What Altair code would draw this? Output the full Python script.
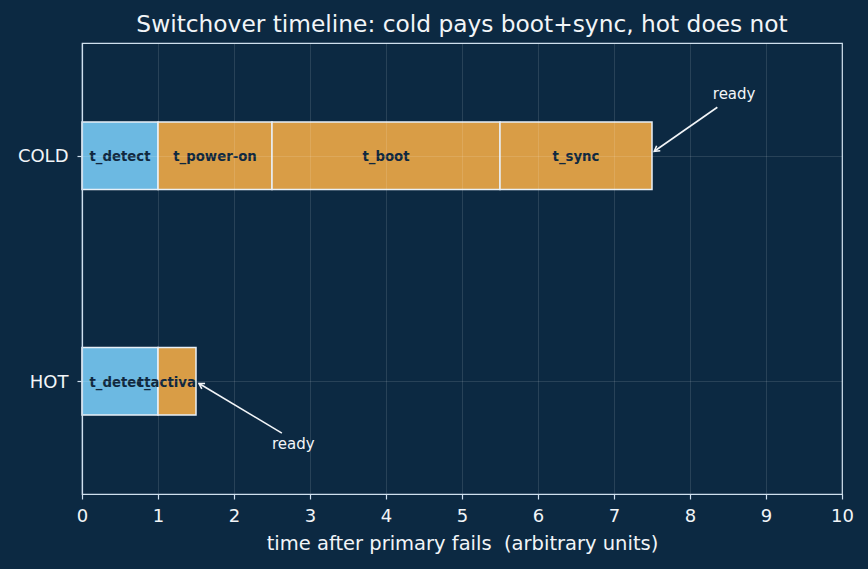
import altair as alt
import pandas as pd

# ---- data ----
seg_lane = ["COLD", "COLD", "COLD", "COLD", "HOT", "HOT"]
seg_name = ["t_detect", "t_power-on", "t_boot", "t_sync", "t_detect", "t_activate"]
seg_start = [0.0, 1.0, 2.5, 5.5, 0.0, 1.0]
seg_end = [1.0, 2.5, 5.5, 7.5, 1.0, 1.5]
seg_kind = ["detect", "cold", "cold", "cold", "detect", "hot"]
lane_names = ["HOT", "COLD"]
lane_pos = {"HOT": 0, "COLD": 1}

ann_text = ["ready", "ready"]
ann_text_x = [8.3, 2.5]
ann_text_y = [1.275, -0.28]
ann_tail_x = [8.36, 2.63]
ann_tail_y = [1.215, -0.23]
ann_tip_x = [7.53, 1.54]
ann_tip_y = [1.02, -0.01]
ann_angle = [234.6, 301.0]

x_ticks = list(range(0, 11))

BG = "#0c2942"
BLUE = "#6cb9e2"
ORANGE = "#d99d46"
EDGE = "#e8f0f7"
LABEL_DARK = "#10283f"
AXIS_C = "#cfe0ee"
TXT = "#f2f5f8"

seg = pd.DataFrame({
    "lane": seg_lane, "name": seg_name, "start": seg_start,
    "end": seg_end, "kind": seg_kind,
})
seg["pos"] = seg["lane"].map(lane_pos)
seg["lo"] = seg["pos"] - 0.15
seg["hi"] = seg["pos"] + 0.15
seg["mid"] = (seg["start"] + seg["end"]) / 2

ann = pd.DataFrame({
    "text": ann_text, "tx": ann_text_x, "ty": ann_text_y,
    "ax": ann_tail_x, "ay": ann_tail_y, "bx": ann_tip_x, "by": ann_tip_y,
    "angle": ann_angle,
})

xscale = alt.Scale(domain=[0, 10], nice=False, zero=False)
yscale = alt.Scale(domain=[-0.5, 1.5], nice=False, zero=False)

xaxis = alt.Axis(
    values=x_ticks, format="d", title="time after primary fails\u00a0 (arbitrary units)",
    grid=True, gridColor="#ffffff", gridOpacity=0.15, gridWidth=0.8,
    domainColor=AXIS_C, domainWidth=1.2, tickColor=AXIS_C, tickSize=5, tickWidth=1.2,
    labelColor=TXT, labelFontSize=18, labelFont="DejaVu Sans", labelPadding=8,
    labelFlush=False, labelOverlap=False,
    titleColor=TXT, titleFontSize=19.5, titleFont="DejaVu Sans",
    titleFontWeight="normal", titlePadding=9, zindex=1,
)
yaxis = alt.Axis(
    values=[0, 1], title=None,
    labelExpr="datum.value == 1 ? 'COLD' : 'HOT'",
    grid=True, gridColor="#ffffff", gridOpacity=0.15, gridWidth=0.8,
    domainColor=AXIS_C, domainWidth=1.2, tickColor=AXIS_C, tickSize=5, tickWidth=1.2,
    labelColor=TXT, labelFontSize=18, labelFont="DejaVu Sans", labelPadding=9,
    labelFlush=False, labelBaseline="middle", labelOffset=1,
    zindex=1,
)

bars = alt.Chart(seg).mark_bar(stroke=EDGE, strokeWidth=1.5, opacity=1).encode(
    x=alt.X("start:Q", scale=xscale, axis=xaxis),
    x2="end:Q",
    y=alt.Y("lo:Q", scale=yscale, axis=yaxis),
    y2="hi:Q",
    color=alt.Color("kind:N", scale=alt.Scale(domain=["detect", "cold", "hot"],
                                              range=[BLUE, ORANGE, ORANGE]), legend=None),
)

labels = alt.Chart(seg).transform_filter("datum.name != 't_activate'").mark_text(
    font="DejaVu Sans", fontWeight="bold", fontSize=13.3, color=LABEL_DARK,
    align="center", baseline="middle", dy=1.5,
).encode(x="mid:Q", y="pos:Q", text="name:N")

label_clip = alt.Chart(seg).transform_filter("datum.name == 't_activate'").mark_text(
    font="DejaVu Sans", fontWeight="bold", fontSize=13.3, color=LABEL_DARK,
    align="right", baseline="middle", limit=60, ellipsis="\u200b", dy=1.5,
).encode(x="end:Q", y="pos:Q", text="name:N")

arrow_lines = alt.Chart(ann).mark_rule(color=TXT, strokeWidth=1.6).encode(
    x="ax:Q", y="ay:Q", x2="bx:Q", y2="by:Q",
)
arrow_heads = alt.Chart(ann).mark_point(
    shape="M-0.55,0.9L0,0L0.55,0.9", filled=False, color=TXT,
    strokeWidth=1.6, size=130, opacity=1,
).encode(x="bx:Q", y="by:Q", angle=alt.Angle("angle:Q", scale=None))
ann_texts = alt.Chart(ann).mark_text(
    font="DejaVu Sans", fontSize=15, color=TXT, align="left", baseline="middle",
).encode(x="tx:Q", y="ty:Q", text="text:N")

chart = alt.layer(bars, labels, label_clip, arrow_lines, arrow_heads, ann_texts).properties(
    width=760, height=451,
    title=alt.TitleParams(
        "Switchover timeline: cold pays boot+sync, hot does not",
        color=TXT, fontSize=23.3, font="DejaVu Sans", fontWeight="normal",
        anchor="middle", offset=6,
    ),
    background=BG,
    padding={"left": 82, "top": 43, "right": 26, "bottom": 75},
    autosize=alt.AutoSizeParams(type="none"),
).configure_view(stroke=AXIS_C, strokeWidth=1.2)

chart.save("out.html", embed_options={"renderer": "svg", "actions": False})
